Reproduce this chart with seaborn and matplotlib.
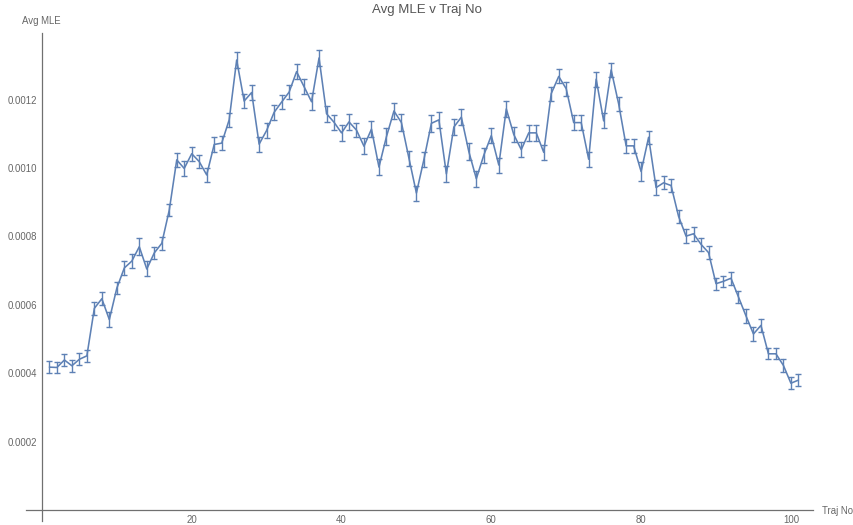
import numpy as np
import pandas as pd
import matplotlib
matplotlib.use("Agg")
import matplotlib.pyplot as plt
import seaborn as sns

# Trajectory numbers and the mean MLE for each, with its error half-width
traj_no = list(range(1, 102))

avg_mle = [
    0.000418, 0.000417, 0.000439, 0.000422, 0.000441, 0.000451, 0.000590, 0.000618, 0.000557, 0.000649,
    0.000708, 0.000728, 0.000770, 0.000705, 0.000752, 0.000780, 0.000877, 0.001024, 0.000999, 0.001042,
    0.001019, 0.000980, 0.001069, 0.001073, 0.001141, 0.001316, 0.001196, 0.001221, 0.001070, 0.001110,
    0.001163, 0.001193, 0.001222, 0.001282, 0.001238, 0.001194, 0.001322, 0.001159, 0.001134, 0.001103,
    0.001135, 0.001111, 0.001064, 0.001114, 0.001003, 0.001092, 0.001167, 0.001133, 0.001029, 0.000927,
    0.001025, 0.001131, 0.001141, 0.000983, 0.001120, 0.001149, 0.001048, 0.000969, 0.001038, 0.001095,
    0.001009, 0.001173, 0.001098, 0.001054, 0.001103, 0.001103, 0.001046, 0.001218, 0.001268, 0.001232,
    0.001133, 0.001133, 0.001026, 0.001260, 0.001138, 0.001287, 0.001188, 0.001065, 0.001065, 0.000990,
    0.001090, 0.000943, 0.000957, 0.000949, 0.000859, 0.000801, 0.000808, 0.000777, 0.000753, 0.000662,
    0.000669, 0.000678, 0.000623, 0.000568, 0.000515, 0.000540, 0.000457, 0.000457, 0.000423, 0.000371,
    0.000380,
]

mle_err = [
    1.71e-5, 1.71e-5, 1.66e-5, 1.71e-5, 1.71e-5, 1.71e-5, 1.95e-5, 1.85e-5, 2.10e-5, 1.85e-5,
    2.05e-5, 1.95e-5, 2.44e-5, 2.19e-5, 1.85e-5, 1.95e-5, 1.85e-5, 1.95e-5, 2.24e-5, 2.05e-5,
    1.95e-5, 1.95e-5, 2.10e-5, 2.05e-5, 2.14e-5, 2.44e-5, 2.14e-5, 2.19e-5, 2.19e-5, 2.29e-5,
    2.19e-5, 2.10e-5, 2.10e-5, 2.24e-5, 2.14e-5, 2.44e-5, 2.34e-5, 2.29e-5, 2.24e-5, 2.29e-5,
    2.34e-5, 2.14e-5, 2.29e-5, 2.44e-5, 2.34e-5, 2.44e-5, 2.44e-5, 2.39e-5, 2.24e-5, 2.19e-5,
    2.29e-5, 2.44e-5, 2.44e-5, 2.29e-5, 2.29e-5, 2.29e-5, 2.44e-5, 2.34e-5, 2.19e-5, 2.29e-5,
    2.19e-5, 2.44e-5, 2.29e-5, 2.29e-5, 2.29e-5, 2.29e-5, 2.19e-5, 2.05e-5, 2.05e-5, 2.10e-5,
    2.19e-5, 2.19e-5, 2.19e-5, 2.19e-5, 2.19e-5, 2.14e-5, 2.10e-5, 1.95e-5, 1.95e-5, 2.78e-5,
    1.95e-5, 2.19e-5, 1.95e-5, 1.80e-5, 1.85e-5, 2.05e-5, 2.05e-5, 1.80e-5, 1.95e-5, 1.75e-5,
    1.56e-5, 1.95e-5, 1.85e-5, 1.95e-5, 2.10e-5, 1.80e-5, 1.61e-5, 1.61e-5, 1.80e-5, 1.75e-5,
    1.75e-5,
]

x_major = [20, 40, 60, 80, 100]
x_minor = [v for v in range(5, 101, 5) if v not in x_major]
y_major = [0.0002, 0.0004, 0.0006, 0.0008, 0.0010, 0.0012]
y_major_labels = ["0.0002", "0.0004", "0.0006", "0.0008", "0.0010", "0.0012"]
y_minor = [round(k * 0.00005, 6) for k in range(1, 28) if k % 4 != 0]

LINE = "#5E81B5"
AXIS = "#707070"
TEXT = "#666666"

# Long-form table: each trajectory carries (mean - err, mean, mean + err),
# so the mean estimator recovers the value and the min/max span is the error bar.
rows = []
for t, m, e in zip(traj_no, avg_mle, mle_err):
    for v in (m - e, m, m + e):
        rows.append((t, v))
df = pd.DataFrame(rows, columns=["traj", "mle"])

sns.set_style("white")
plt.rcParams["font.family"] = ["Liberation Sans", "DejaVu Sans"]

W, H = 854, 525
fig = plt.figure(figsize=(W / 100, H / 100), dpi=100)
ax = fig.add_axes([26.2 / W, 1 - 520.7 / H, (813 - 26.2) / W, (520.7 - 33) / H])

sns.lineplot(
    data=df, x="traj", y="mle", estimator="mean",
    errorbar=lambda s: (s.min(), s.max()), err_style="bars",
    color=LINE, linewidth=1.15,
    err_kws=dict(capsize=2.4, elinewidth=1.0, capthick=1.0),
    ax=ax,
)

ax.set_xlim(-2.1, 102.95)
ax.set_ylim(-0.000031, 0.001395)

for side in ("top", "right"):
    ax.spines[side].set_visible(False)
ax.spines["left"].set_position(("data", 0))
ax.spines["bottom"].set_position(("data", 0))
for side in ("left", "bottom"):
    ax.spines[side].set_color(AXIS)
    ax.spines[side].set_linewidth(0.9)

ax.set_xticks(x_major)
ax.set_xticklabels([str(v) for v in x_major])
ax.set_xticks(x_minor, minor=True)
ax.set_yticks(y_major)
ax.set_yticklabels(y_major_labels)
ax.set_yticks(y_minor, minor=True)

ax.tick_params(which="major", direction="in", length=3.0, width=0.8,
               color=AXIS, labelcolor=TEXT, labelsize=6.9, pad=3.3)
ax.tick_params(which="minor", direction="in", length=1.6, width=0.7, color=AXIS)
ax.set_xlabel("")
ax.set_ylabel("")
ax.grid(False)

fig.text(21.7 / W, 1 - 21 / H, "Avg MLE", ha="left", va="center", color=TEXT, fontsize=6.9)
fig.text(822 / W, 1 - 511 / H, "Traj No", ha="left", va="center", color=TEXT, fontsize=6.9)
fig.text(427 / W, 1 - 10 / H, "Avg MLE v Traj No", ha="center", va="center", color="#555555", fontsize=9.5)

fig.savefig("out.png", dpi=100)
